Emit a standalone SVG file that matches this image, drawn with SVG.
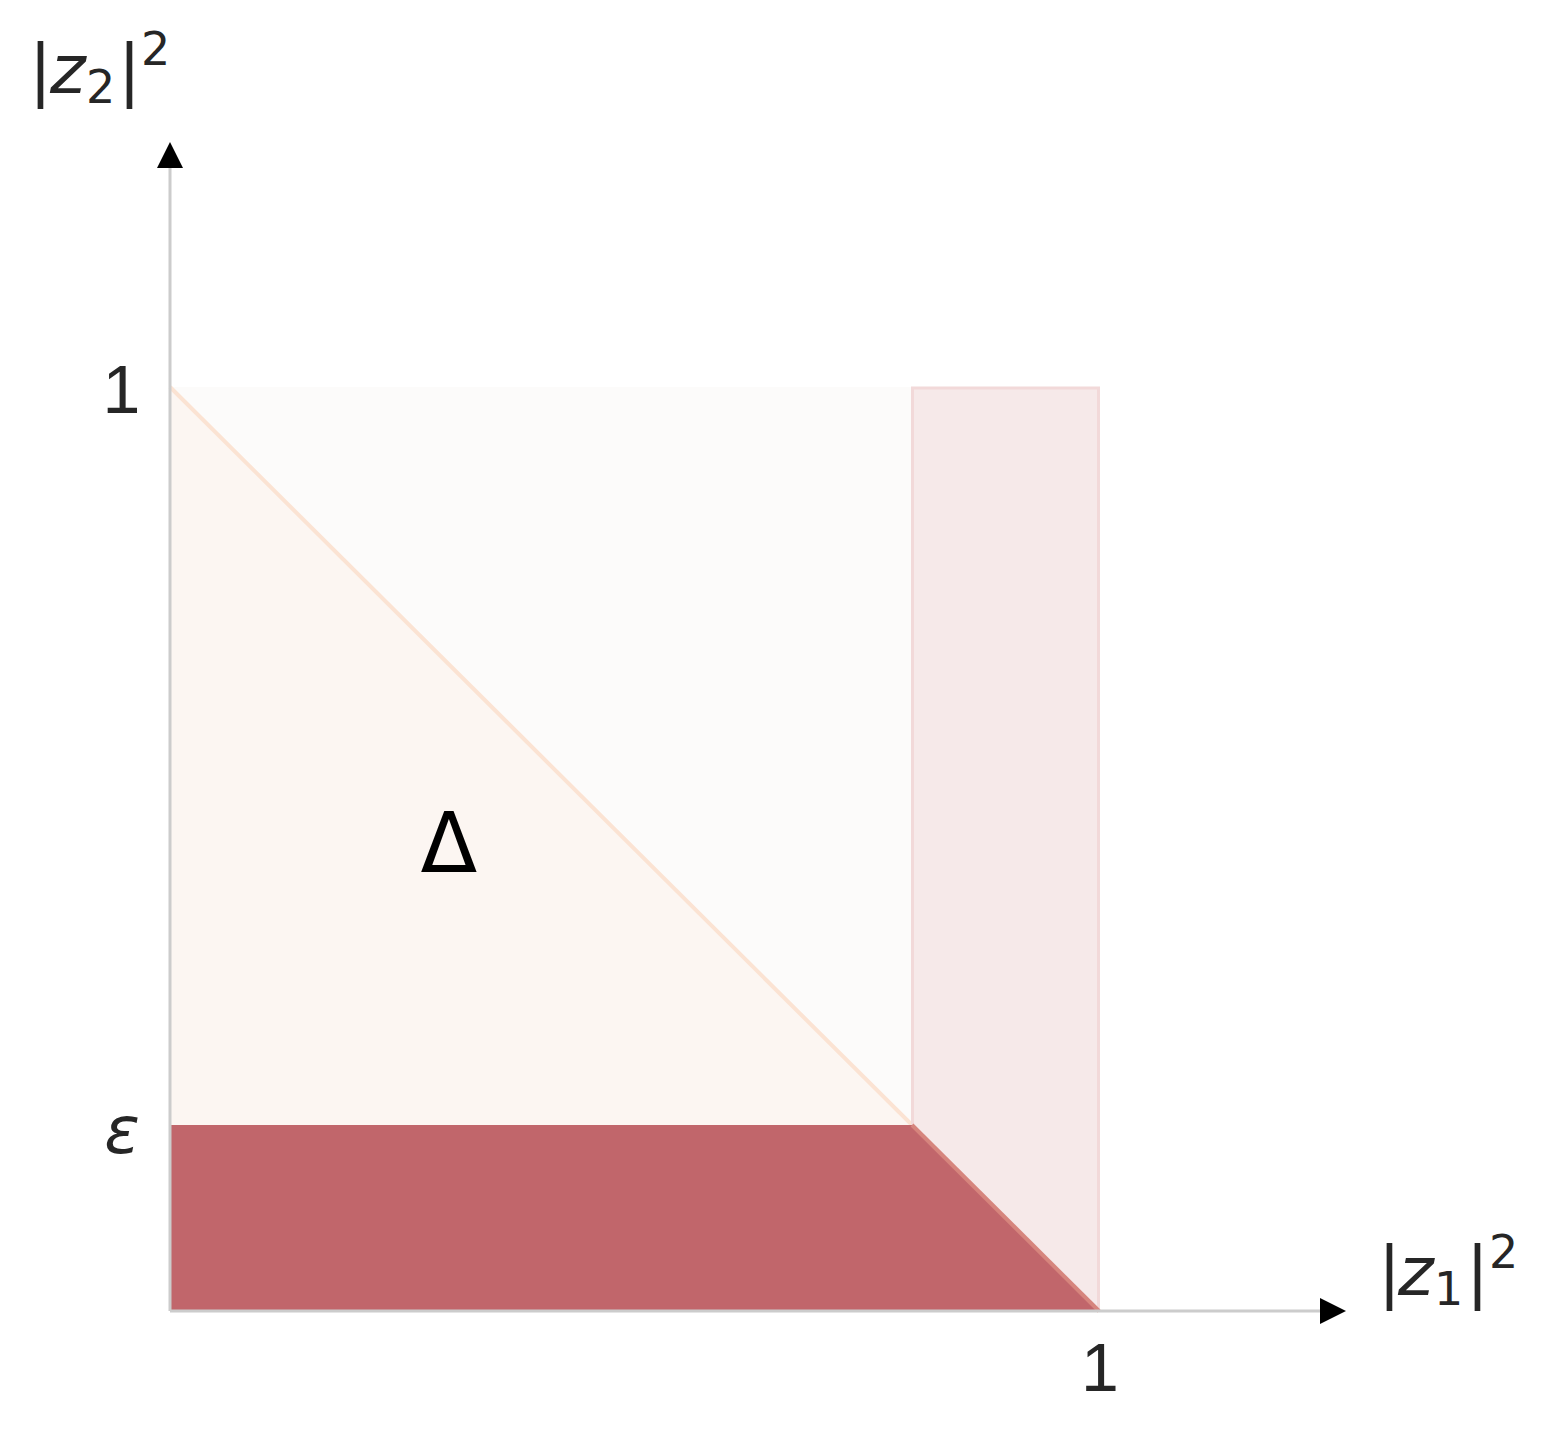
<svg xmlns="http://www.w3.org/2000/svg" width="1547" height="1433" viewBox="0 0 1547 1433">
<style>
.t{font-family:"DejaVu Sans",sans-serif;fill:#262626}
.tick{font-family:"Liberation Sans",Arial,sans-serif;fill:#262626;font-size:68px}
.axis{stroke:#cccccc;stroke-width:3;fill:none}
.arrow{fill:#000}
</style>
<rect width="1547" height="1433" fill="#ffffff"/>
<g id="square">
<rect x="170" y="387" width="929" height="924" fill="#fcfbfa"/>
</g>
<g id="triangle">
<polygon points="170,387 1099,1311 170,1311" fill="#fcf6f2"/>
<line x1="170" y1="387" x2="1099" y2="1311" stroke="#fbe3d3" stroke-width="4"/>
</g>
<g id="strip">
<rect x="912.5" y="388" width="186" height="922" fill="#f6e9e9" stroke="#f2d9d9" stroke-width="3"/>
</g>
<g id="region">
<polygon points="170,1125 912,1125 1099,1311 170,1311" fill="#c1666b"/>
<line x1="912" y1="1125" x2="1099" y2="1311" stroke="#d6857d" stroke-width="4"/>
</g>
<g id="connectors">
<line class="axis" x1="170" y1="1311" x2="170" y2="160"/>
<polygon class="arrow" points="170,142 157,168 183,168"/>
<line class="axis" x1="170" y1="1311" x2="1328" y2="1311"/>
<polygon class="arrow" points="1346,1311 1320,1298 1320,1324"/>
</g>
<g id="labels">
<text class="t" font-size="68" y="93"><tspan x="29">|</tspan><tspan x="50" font-style="italic">z</tspan></text>
<text class="t" font-size="46" x="86" y="103">2</text>
<text class="t" font-size="68" x="118" y="93">|</text>
<text class="t" font-size="46" x="141" y="65">2</text>
<text class="t" font-size="68" y="1295"><tspan x="1378">|</tspan><tspan x="1398" font-style="italic">z</tspan></text>
<text class="t" font-size="46" x="1434" y="1305">1</text>
<text class="t" font-size="68" x="1466" y="1295">|</text>
<text class="t" font-size="46" x="1489" y="1268">2</text>
<text class="tick" x="121.5" y="413" text-anchor="middle">1</text>
<text class="tick" x="1100" y="1391" text-anchor="middle">1</text>
<text class="t" font-size="66" x="122" y="1153" text-anchor="middle" font-style="italic">ε</text>
<text font-family="DejaVu Sans,sans-serif" font-size="83" x="449" y="872" text-anchor="middle" fill="#000">Δ</text>
</g>
</svg>
